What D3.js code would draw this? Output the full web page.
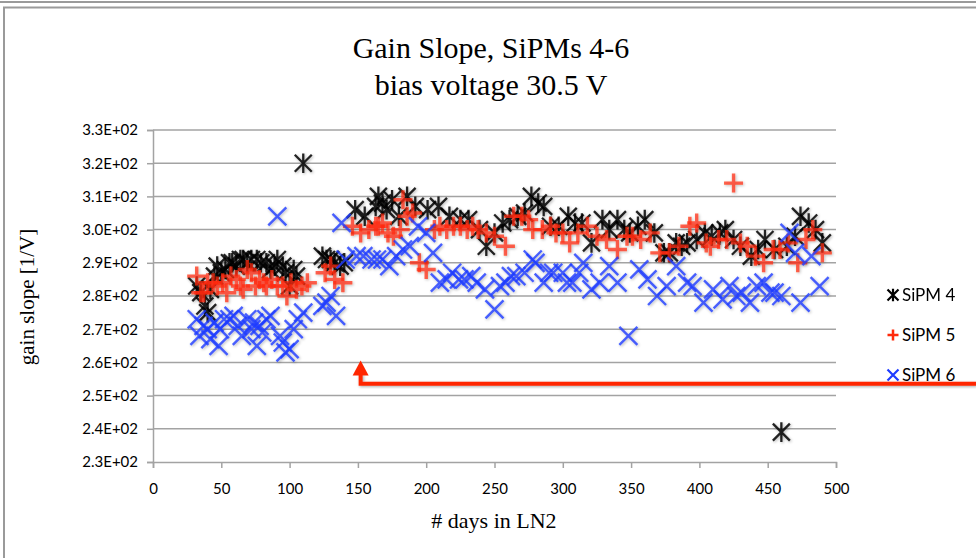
<!DOCTYPE html>
<html><head><meta charset="utf-8">
<script src="https://cdn.jsdelivr.net/npm/d3@7"></script>
<style>html,body{margin:0;padding:0;background:#fff;}svg{display:block;}
.serif{font-family:"Liberation Serif","Times New Roman",Tinos,serif;}</style>
</head><body>
<svg id="chart" width="976" height="558"></svg>
<script>
const titleLines = ["Gain Slope, SiPMs 4-6", "bias voltage 30.5 V"];
const xTitle = "# days in LN2";
const yTitle = "gain slope [1/V]";
const seriesNames = ["SiPM 4", "SiPM 5", "SiPM 6"];
const xTicks = [0,50,100,150,200,250,300,350,400,450,500];
const yTicks = [230,240,250,260,270,280,290,300,310,320,330];

const days4 = [32,35,38,40,42,45,47,50,53,56,58,61,64,66,69,72,76,79,83,86,89,91,95,97,100,103,105,110,124,127,130,133,137,140,148,155,163,165,168,171,175,180,186,192,201,209,217,225,231,239,244,250,256,261,267,272,277,282,286,291,297,304,309,314,321,329,334,340,345,349,355,360,367,374,378,383,387,391,398,404,409,415,419,425,430,438,443,448,455,460,464,470,474,480,485,490];
const sipm4 = [283,281,277,275,282,286,289,287,288,290,290,289,291,291,290,291,291,290,290,288,289,291,289,287,283,288,286,320,292,291,291,290,289,290,306,304,307,310,308,306,309,304,310,307,306,307,304,303,303,300,295,299,302,303,304,305,310,308,307,301,301,304,302,302,296,303,300,303,300,299,301,303,299,293,293,296,295,296,297,299,298,299,300,297,295,292,294,297,294,239,295,298,304,302,300,296];

const days5 = [32,35,37,40,44,47,51,54,57,61,64,66,69,72,75,78,81,83,87,91,95,98,101,105,109,113,126,130,133,139,146,152,158,163,165,168,172,176,181,183,186,190,195,200,206,210,215,220,225,230,234,238,244,250,258,264,270,275,278,285,291,295,300,305,311,318,325,332,340,347,351,357,364,371,378,385,393,398,405,408,414,420,425,430,435,441,447,454,459,465,472,478,483,490];
const sipm5 = [286,281,281,284,284,283,284,281,286,285,283,282,288,287,283,285,284,283,285,283,283,280,284,282,283,284,287,289,285,284,301,299,300,301,301,302,299,298,300,309,304,305,290,288,300,301,300,301,301,300,301,300,299,298,295,304,304,303,300,300,301,299,299,296,299,301,298,297,294,298,298,297,299,293,293,295,301,302,296,295,297,297,314,296,295,292,290,294,294,296,290,297,300,293];

const days6 = [32,34,37,40,42,45,48,49,52,56,59,62,65,69,72,74,76,78,80,83,86,91,93,95,97,100,103,106,110,124,127,130,134,138,141,149,154,160,164,168,173,178,183,188,194,200,205,210,215,219,224,228,233,237,243,250,254,258,262,266,272,278,280,286,290,293,300,303,307,312,315,321,327,334,340,348,356,362,369,376,383,391,395,403,410,417,422,427,431,437,442,447,452,455,460,466,470,474,482,488];
const sipm6 = [273,268,271,270,267,272,265,270,273,273,274,271,268,273,270,272,265,271,269,273,274,304,268,266,263,264,270,273,275,277,278,280,274,302,291,292,292,291,291,291,289,292,294,295,301,299,293,284,285,287,285,285,286,284,282,276,283,284,286,286,287,291,290,284,287,287,287,284,284,287,290,282,284,289,284,268,288,285,280,283,289,284,283,278,282,279,283,280,281,278,283,284,281,281,280,299,293,278,292,283];

const colors = ["#000000", "#ff2a0a", "#1e3cff"];

const svg = d3.select("#chart");
const W = 976, H = 558;

const defs = svg.append("defs");
const f = defs.append("filter").attr("id","soft").attr("x","-50%").attr("y","-50%").attr("width","200%").attr("height","200%");
f.append("feGaussianBlur").attr("in","SourceAlpha").attr("stdDeviation",1.4).attr("result","b");
f.append("feOffset").attr("in","b").attr("dx",0.5).attr("dy",1).attr("result","o");
f.append("feComponentTransfer").attr("in","o").attr("result","s").append("feFuncA").attr("type","linear").attr("slope",0.35);
f.append("feGaussianBlur").attr("in","SourceGraphic").attr("stdDeviation",0.5).attr("result","g");
const m = f.append("feMerge");
m.append("feMergeNode").attr("in","s");
m.append("feMergeNode").attr("in","g");

// frame
svg.append("line").attr("x1",0).attr("x2",W).attr("y1",2).attr("y2",2).attr("stroke","#9a9a9a").attr("stroke-width",2);
svg.append("path").attr("d",`M4,${H+5} L4,7.5 L${W+5},7.5`).attr("fill","none").attr("stroke","#9a9a9a").attr("stroke-width",2);

const x = d3.scaleLinear().domain([0,500]).range([153,836]);
const y = d3.scaleLinear().domain([230,330]).range([462,130]);

svg.append("g").selectAll("line").data(yTicks.slice(1)).join("line")
  .attr("x1",x(0)).attr("x2",x(500)).attr("y1",d=>y(d)).attr("y2",d=>y(d))
  .attr("stroke","#a3a3a3").attr("stroke-width",1.5);

const yAxis = svg.append("g").attr("transform",`translate(${x(0)},0)`)
  .call(d3.axisLeft(y).tickValues(yTicks).tickSize(6).tickPadding(9).tickFormat(d=>(d/100).toFixed(1)+"E+02"));
const xAxis = svg.append("g").attr("transform",`translate(0,${y(230)})`)
  .call(d3.axisBottom(x).tickValues(xTicks).tickSize(6).tickPadding(15).tickFormat(d3.format("d")));
[yAxis,xAxis].forEach(g=>{
  g.select(".domain").attr("stroke","#a3a3a3").attr("stroke-width",1.5);
  g.selectAll(".tick line").attr("stroke","#a3a3a3").attr("stroke-width",1.5);
  g.selectAll("text").attr("fill","#000").style("font-family","Lato, 'Open Sans', sans-serif").style("font-size","15px");
});

svg.append("g").selectAll("text").data(titleLines).join("text").attr("class","serif")
  .attr("x",491).attr("y",(d,i)=>58+i*37).attr("text-anchor","middle")
  .style("font-size","30px").text(d=>d);
svg.append("text").attr("class","serif").attr("x",494).attr("y",528).attr("text-anchor","middle")
  .style("font-size","22px").text(xTitle);
svg.append("text").attr("class","serif").attr("transform","translate(34,297) rotate(-90)").attr("text-anchor","middle")
  .style("font-size","21px").text(yTitle);

function markerPath(kind, s){
  if(kind===0) return `M${-s},${-s}L${s},${s}M${-s},${s}L${s},${-s}M0,${-s*1.15}L0,${s*1.15}`;
  if(kind===1) return `M${-s},0L${s},0M0,${-s}L0,${s}`;
  return `M${-s},${-s}L${s},${s}M${-s},${s}L${s},${-s}`;
}
const widths = [2.3, 3.4, 2.4];
const sizes = [8.5, 9.5, 9];
const opac = [0.85, 0.72, 0.8];

const allSeries = [[days4,sipm4],[days5,sipm5],[days6,sipm6]];
allSeries.forEach(([dx,vy],k)=>{
  const pts = dx.map((d,i)=>({d, v: vy[i]}));
  svg.append("g").attr("filter","url(#soft)").selectAll("path").data(pts).join("path")
    .attr("transform",p=>`translate(${x(p.d)},${y(p.v)})`)
    .attr("d",markerPath(k,sizes[k]))
    .attr("fill","none").attr("stroke",colors[k]).attr("stroke-width",widths[k]).attr("stroke-opacity",opac[k]);
});

// legend
const lg = svg.append("g");
seriesNames.forEach((nm,k)=>{
  const ly = 295 + k*40;
  lg.append("path").attr("transform",`translate(893,${ly})`).attr("d",markerPath(k,5.5))
    .attr("fill","none").attr("stroke",colors[k]).attr("stroke-width",k===1?2.5:2.2);
  lg.append("text").attr("x",902).attr("y",ly+6).style("font-family","Lato, sans-serif").style("font-size","17px").text(nm);
});

// red annotation arrow
const ax = x(152), tipY = y(260.6), baseY = y(253.6);
const red = "#ff2600";
svg.append("path").attr("d",`M${W},${baseY}L${ax},${baseY}L${ax},${tipY+13}`)
  .attr("fill","none").attr("stroke",red).attr("stroke-width",4).attr("filter","url(#soft)");
svg.append("path").attr("d",`M${ax-8},${tipY+15}L${ax},${tipY}L${ax+8},${tipY+15}Z`).attr("fill",red);
</script>
</body></html>
